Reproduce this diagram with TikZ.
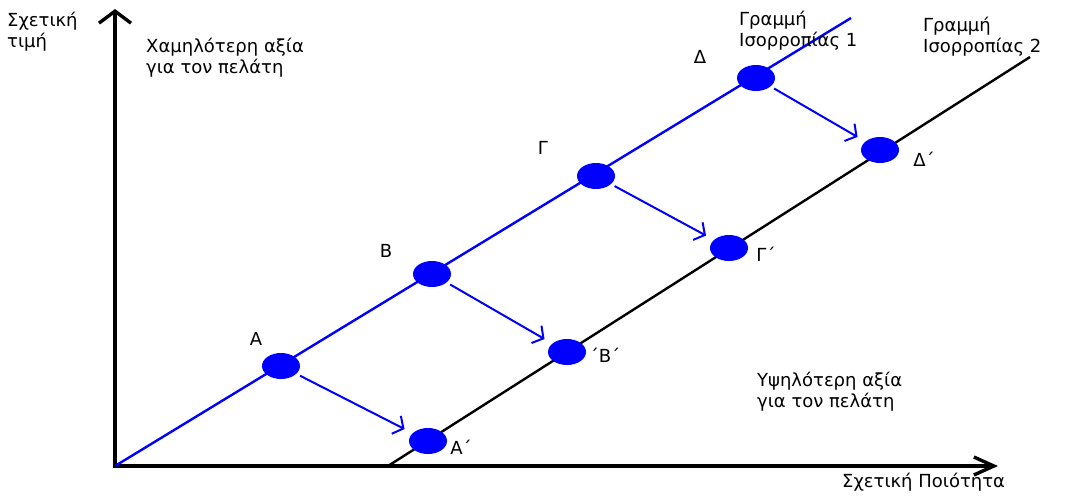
\documentclass[tikz,border=0pt]{standalone}
\usepackage{fontspec}
\setmainfont{DejaVu Sans}
\usepackage{tikz}
\usetikzlibrary{positioning, arrows.meta, shapes.geometric}

\begin{document}
\begin{tikzpicture}[x=1pt, y=-1pt, font=\fontsize{18}{21}\selectfont,
    pointdot/.style={ellipse, fill=blue, draw=none, minimum width=38pt,
                     minimum height=26pt, inner sep=0pt},
    movearrow/.style={->, >={Straight Barb[length=8pt, width=20pt]}, blue,
                      line width=2pt, shorten <=4pt, shorten >=9pt},
    axisline/.style={line width=3.4pt},
    txt/.style={anchor=north west, align=left, inner sep=0pt}]
        \useasboundingbox (0,0) rectangle (1066,496);
        % Axes
        \coordinate (O) at (115,466);
        \coordinate (ytop) at (115,9);
        \coordinate (xend) at (998,466);
        \draw[axisline, -{Straight Barb[length=12pt, width=32pt]}] (O) -- (ytop);
        \draw[axisline, -{Straight Barb[length=20pt, width=18pt]}] (113,466) -- (xend);
        % Equilibrium lines
        \coordinate (top1) at (851,18);
        \coordinate (start2) at (388,466);
        \coordinate (top2) at (1030,57);
        \draw[blue, line width=2.4pt] (O) -- (top1);
        \draw[line width=2.4pt] (start2) -- (top2);
        % Points on line 1
        \node[pointdot] (A) at (281,366) {};
        \node[pointdot] (B) at (432,274) {};
        \node[pointdot] (G) at (596,176) {};
        \node[pointdot] (D) at (756,78) {};
        % Points on line 2
        \node[pointdot] (A2) at (428,441) {};
        \node[pointdot] (B2) at (567,352) {};
        \node[pointdot] (G2) at (729,248) {};
        \node[pointdot] (D2) at (880,150) {};
        \draw[movearrow] (A) -- (A2);
        \draw[movearrow] (B) -- (B2);
        \draw[movearrow] (G) -- (G2);
        \draw[movearrow] (D) -- (D2);
        % Point labels
        \node (lA) at (256,339) {Α};
        \node (lB) at (386,251) {Β};
        \node (lG) at (543,148) {Γ};
        \node (lD) at (700,57) {Δ};
        \node (lA2) at (461,447) {Α΄};
        \node (lB2) at (605,355) {΄Β΄};
        \node (lG2) at (766,254) {Γ΄};
        \node (lD2) at (924,159) {Δ΄};
        % Texts
        \node[txt] (yname) at (7,12) {Σχετική\\τιμή};
        \node[txt] (xname) at (842,473) {Σχετική Ποιότητα};
        \node[txt] (low) at (146,38) {Χαμηλότερη αξία\\για τον πελάτη};
        \node[txt] (high) at (757,372) {Υψηλότερη αξία\\για τον πελάτη};
        \node[txt] (line1) at (739,11) {Γραμμή\\Ισορροπίας 1};
        \node[txt] (line2) at (923,17) {Γραμμή\\Ισορροπίας 2};
      \end{tikzpicture}
\end{document}
